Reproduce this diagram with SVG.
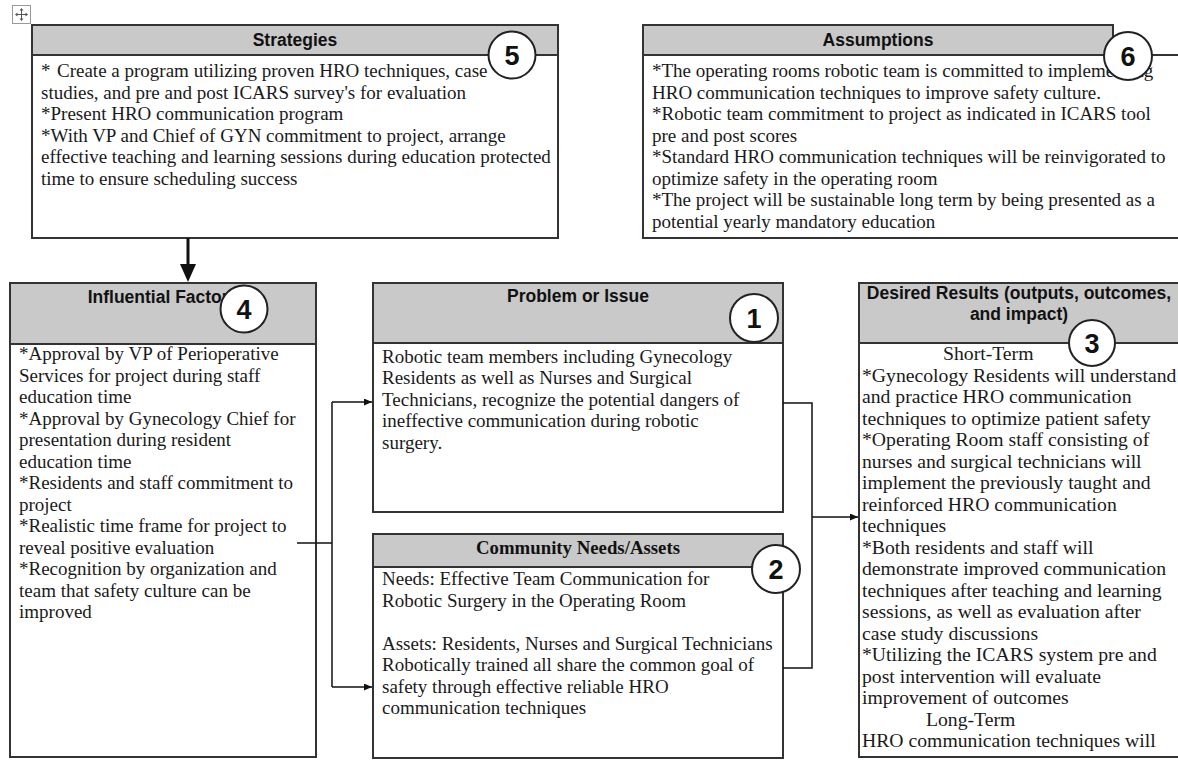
<svg xmlns="http://www.w3.org/2000/svg" width="1178" height="760" viewBox="0 0 1178 760">
<defs>
<style>
.hdr{fill:#c9c9c9;stroke:#333;stroke-width:2}
.box{fill:#fff;stroke:#333;stroke-width:2}
.ht{font-family:"Liberation Sans",Arial,sans-serif;font-weight:bold;font-size:17.5px;fill:#111;text-anchor:middle}
.hts{font-family:"Liberation Serif","Times New Roman",serif;font-weight:bold;font-size:18.8px;fill:#111;text-anchor:middle}
.bt{font-family:"Liberation Serif","Times New Roman",serif;font-size:19px;fill:#1a1a1a}
.btr{font-family:"Liberation Serif","Times New Roman",serif;font-size:19.7px;fill:#1a1a1a}
.num circle{fill:#fff;stroke:#222;stroke-width:2}
.num text{font-family:"Liberation Sans",Arial,sans-serif;font-weight:bold;font-size:27px;fill:#111;text-anchor:middle}
.conn{stroke:#111;stroke-width:1.5;fill:none}
</style>
<marker id="ah" markerUnits="userSpaceOnUse" markerWidth="9" markerHeight="8" refX="8" refY="3.5" orient="auto">
<path d="M0,0 L8,3.5 L0,7 z" fill="#111"/>
</marker>
</defs>
<rect width="1178" height="760" fill="#fff"/>

<g id="move-icon">
<rect x="12.5" y="5.5" width="18" height="18" fill="#fff" stroke="#999" stroke-width="1"/>
<path d="M21.5,9 L21.5,20 M16,14.5 L27,14.5" stroke="#555" stroke-width="1"/>
<path d="M21.5,8 L19.5,10.5 L23.5,10.5 z M21.5,21 L19.5,18.5 L23.5,18.5 z M15,14.5 L17.5,12.5 L17.5,16.5 z M28,14.5 L25.5,12.5 L25.5,16.5 z" fill="#555"/>
</g>

<g id="strategies">
<rect class="box" x="32" y="25" width="526" height="213"/>
<rect class="hdr" x="32" y="25" width="526" height="30"/>
<text class="ht" x="295" y="46">Strategies</text>
<text class="bt" y="77"><tspan x="41">*</tspan><tspan x="57">Create a program utilizing proven HRO techniques, case</tspan><tspan x="41" dy="21.5">studies, and pre and post ICARS survey's for evaluation</tspan><tspan x="41" dy="21.5">*Present HRO communication program</tspan><tspan x="41" dy="21.5">*With VP and Chief of GYN commitment to project, arrange</tspan><tspan x="41" dy="21.5">effective teaching and learning sessions during education protected</tspan><tspan x="41" dy="21.5">time to ensure scheduling success</tspan></text>
<g class="num"><circle cx="512" cy="55" r="23.5"/><text x="512" y="65">5</text></g>
</g>

<g id="assumptions">
<rect class="box" x="643" y="55" width="560" height="183"/>
<rect class="hdr" x="643" y="25" width="470" height="30"/>
<text class="ht" x="878" y="46">Assumptions</text>
<text class="bt" y="77"><tspan x="652">*The operating rooms robotic team is committed to implementing</tspan><tspan x="652" dy="21.5">HRO communication techniques to improve safety culture.</tspan><tspan x="652" dy="21.5">*Robotic team commitment to project as indicated in ICARS tool</tspan><tspan x="652" dy="21.5">pre and post scores</tspan><tspan x="652" dy="21.5">*Standard HRO communication techniques will be reinvigorated to</tspan><tspan x="652" dy="21.5">optimize safety in the operating room</tspan><tspan x="652" dy="21.5">*The project will be sustainable long term by being presented as a</tspan><tspan x="652" dy="21.5">potential yearly mandatory education</tspan></text>
<g class="num"><circle cx="1128" cy="56" r="24"/><text x="1128" y="66">6</text></g>
</g>

<g id="influential-factors">
<rect class="box" x="10" y="283" width="306" height="474"/>
<rect class="hdr" x="10" y="283" width="306" height="61"/>
<text class="ht" x="163" y="303">Influential Factors</text>
<text class="bt" y="360"><tspan x="19">*Approval by VP of Perioperative</tspan><tspan x="19" dy="21.5">Services for project during staff</tspan><tspan x="19" dy="21.5">education time</tspan><tspan x="19" dy="21.5">*Approval by Gynecology Chief for</tspan><tspan x="19" dy="21.5">presentation during resident</tspan><tspan x="19" dy="21.5">education time</tspan><tspan x="19" dy="21.5">*Residents and staff commitment to</tspan><tspan x="19" dy="21.5">project</tspan><tspan x="19" dy="21.5">*Realistic time frame for project to</tspan><tspan x="19" dy="21.5">reveal positive evaluation</tspan><tspan x="19" dy="21.5">*Recognition by organization and</tspan><tspan x="19" dy="21.5">team that safety culture can be</tspan><tspan x="19" dy="21.5">improved</tspan></text>
<g class="num"><circle cx="244" cy="309" r="23.5"/><text x="244" y="319">4</text></g>
</g>

<g id="problem">
<rect class="box" x="373" y="283" width="410" height="229"/>
<rect class="hdr" x="373" y="283" width="410" height="60"/>
<text class="ht" x="578" y="302">Problem or Issue</text>
<text class="bt" y="362.5"><tspan x="382">Robotic team members including Gynecology</tspan><tspan x="382" dy="21.5">Residents as well as Nurses and Surgical</tspan><tspan x="382" dy="21.5">Technicians, recognize the potential dangers of</tspan><tspan x="382" dy="21.5">ineffective communication during robotic</tspan><tspan x="382" dy="21.5">surgery.</tspan></text>
<g class="num"><circle cx="754" cy="318" r="24"/><text x="754" y="328">1</text></g>
</g>

<g id="community">
<rect class="box" x="373" y="534" width="410" height="224"/>
<rect class="hdr" x="373" y="534" width="410" height="33"/>
<text class="hts" x="578" y="554">Community Needs/Assets</text>
<text class="bt" y="585"><tspan x="382">Needs: Effective Team Communication for</tspan><tspan x="382" dy="21.5">Robotic Surgery in the Operating Room</tspan><tspan x="382" dy="43">Assets: Residents, Nurses and Surgical Technicians</tspan><tspan x="382" dy="21.5">Robotically trained all share the common goal of</tspan><tspan x="382" dy="21.5">safety through effective reliable HRO</tspan><tspan x="382" dy="21.5">communication techniques</tspan></text>
<g class="num"><circle cx="776" cy="569" r="24"/><text x="776" y="579">2</text></g>
</g>

<g id="desired-results">
<rect class="box" x="859" y="283" width="340" height="474"/>
<rect class="hdr" x="859" y="283" width="340" height="60"/>
<text class="ht" x="1019" y="299">Desired Results (outputs, outcomes,</text>
<text class="ht" x="1019" y="320">and impact)</text>
<text class="btr" y="360"><tspan x="943">Short-Term</tspan><tspan x="862" dy="21.5">*Gynecology Residents will understand</tspan><tspan x="862" dy="21.5">and practice HRO communication</tspan><tspan x="862" dy="21.5">techniques to optimize patient safety</tspan><tspan x="862" dy="21.5">*Operating Room staff consisting of</tspan><tspan x="862" dy="21.5">nurses and surgical technicians will</tspan><tspan x="862" dy="21.5">implement the previously taught and</tspan><tspan x="862" dy="21.5">reinforced HRO communication</tspan><tspan x="862" dy="21.5">techniques</tspan><tspan x="862" dy="21.5">*Both residents and staff will</tspan><tspan x="862" dy="21.5">demonstrate improved communication</tspan><tspan x="862" dy="21.5">techniques after teaching and learning</tspan><tspan x="862" dy="21.5">sessions, as well as evaluation after</tspan><tspan x="862" dy="21.5">case study discussions</tspan><tspan x="862" dy="21.5">*Utilizing the ICARS system pre and</tspan><tspan x="862" dy="21.5">post intervention will evaluate</tspan><tspan x="862" dy="21.5">improvement of outcomes</tspan><tspan x="926" dy="21.5">Long-Term</tspan><tspan x="862" dy="21.5">HRO communication techniques will</tspan></text>
<g class="num"><circle cx="1092" cy="343" r="23"/><text x="1092" y="353">3</text></g>
</g>

<g id="connectors">
<line x1="188" y1="238" x2="188" y2="266" stroke="#111" stroke-width="3"/>
<polygon points="180,264 196,264 188,282" fill="#111"/>
<path class="conn" d="M297,543 L332,543"/>
<path class="conn" d="M332,402 L332,687"/>
<path class="conn" d="M332,402 L372,402" marker-end="url(#ah)"/>
<path class="conn" d="M332,687 L372,687" marker-end="url(#ah)"/>
<path class="conn" d="M783,403 L812,403 L812,668 L783,668"/>
<path class="conn" d="M812,517 L858,517" marker-end="url(#ah)"/>
</g>
</svg>
